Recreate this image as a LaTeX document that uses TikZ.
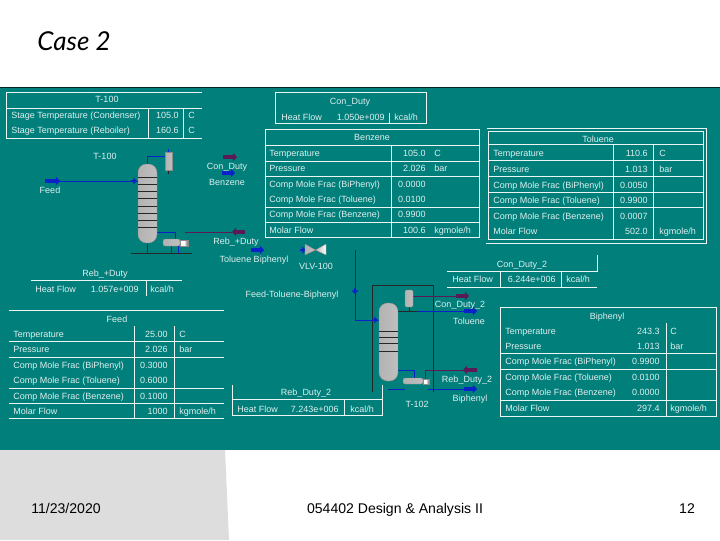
\documentclass[tikz,border=0pt]{standalone}
\usepackage{fontspec}
\setmainfont{Liberation Sans}
\newfontfamily\titlefont{Lato}
\usetikzlibrary{arrows.meta}
\definecolor{teal0}{HTML}{007F7B}
\definecolor{duty}{HTML}{5A1A55}
\definecolor{flow}{HTML}{0A22C8}
\tikzset{
	lbl/.style={text=white!88!teal0,font=\fontsize{6.4}{7.5}\selectfont,inner sep=0pt,text height=5.4pt,text depth=0.8pt},
	cell/.style={lbl,anchor=west},
	val/.style={lbl,anchor=east},
	foot/.style={font=\fontsize{10}{12}\selectfont,inner sep=0pt,text height=7.2pt,text depth=1.8pt},
	rule/.style={draw=white!92!teal0,line width=0.55pt},
	stream/.style={draw=flow,line width=0.7pt},
	heat/.style={draw=duty,line width=0.7pt},
	bigflow/.style={draw=flow,line width=2.4pt,-{Triangle[length=3pt,width=6pt]}},
	bigheat/.style={draw=duty,line width=2.4pt,-{Triangle[length=3pt,width=6pt]}},
	smallflow/.style={draw=flow,line width=1.8pt,-{Triangle[length=2.5pt,width=4.5pt]}},
	vessel/.style={left color=gray!60,middle color=white,right color=gray!50,draw=black!45,line width=0.3pt},
	tray/.style={draw=black!85,line width=0.5pt},
	frame/.style={draw=black!85,line width=0.7pt}
}
\begin{document}
\begin{tikzpicture}[x=0.025cm,y=-0.025cm]
	\useasboundingbox (0,0) rectangle (720,540);
	\fill[white] (0,0) rectangle (720,540);
	\fill[teal0] (0,87) rectangle (720,450);
	\draw[black!70!teal0,line width=0.6pt] (0,87) -- (720,87);
	\fill[gray!27] (0,450) -- (225,450) -- (229,540) -- (0,540) -- cycle;
	\node[font=\titlefont\itshape\fontsize{18.5}{20}\selectfont,inner sep=0pt,anchor=west] (title) at (37,41) {Case 2};
	\node[foot] (date) at (66,510) {11/23/2020};
	\node[foot] (course) at (395,510) {054402 Design \& Analysis II};
	\node[foot] (page) at (687,510) {12};

	% T-100 table
	\draw[rule] (202,92) -- (6,92) -- (6,138) -- (202,138);
	\draw[rule] (6,108) -- (202,108);
	\draw[rule] (148,108) -- (148,138);
	\draw[rule] (183,108) -- (183,138);
	\node[lbl] (tt) at (107,99) {T-100};
	\node[cell] (tc) at (11,115) {Stage Temperature (Condenser)};
	\node[val] (tcv) at (179,115) {105.0};
	\node[cell] (tcu) at (188,115) {C};
	\node[cell] (tr) at (11,130) {Stage Temperature (Reboiler)};
	\node[val] (trv) at (179,130) {160.6};
	\node[cell] (tru) at (188,130) {C};

	% Con_Duty table
	\draw[rule] (275,92) rectangle (426,123);
	\draw[rule] (389,113) -- (389,123);
	\node[lbl] (cd) at (350,101) {Con\_Duty};
	\node[cell] (cdh) at (281,117) {Heat Flow};
	\node[val] (cdv) at (385,117) {1.050e+009};
	\node[cell] (cdu) at (394,117) {kcal/h};

	% Benzene table
	\draw[rule] (265,129) rectangle (479,237);
	\foreach \y in {145,161,176,207,222} \draw[rule] (265,\y) -- (479,\y);
	\draw[rule] (391,145) -- (391,237);
	\node[lbl] (bz) at (372,137) {Benzene};
	\foreach \i/\y/\t/\v/\u in {1/153/Temperature/105.0/C,2/168/Pressure/2.026/bar,3/184/Comp Mole Frac (BiPhenyl)/0.0000/,4/199/Comp Mole Frac (Toluene)/0.0100/,5/214/Comp Mole Frac (Benzene)/0.9900/,6/230/Molar Flow/100.6/{kgmole/h}}{
		\node[cell] (bzl\i) at (269,\y) {\t};
		\node[val] (bzv\i) at (426,\y) {\v};
		\node[cell] (bzu\i) at (434,\y) {\u};
	}

	% Toluene table
	\draw[rule] (488,131) rectangle (703,239);
	\draw[rule] (487,128) -- (706,128) -- (706,243) -- (486,243);
	\foreach \y in {144,160,176,192,207} \draw[rule] (488,\y) -- (703,\y);
	\draw[rule] (613,144) -- (613,239);
	\draw[rule] (653,144) -- (653,239);
	\node[lbl] (tl) at (598,139) {Toluene};
	\foreach \i/\y/\t/\v/\u in {1/153/Temperature/110.6/C,2/169/Pressure/1.013/bar,3/185/Comp Mole Frac (BiPhenyl)/0.0050/,4/200/Comp Mole Frac (Toluene)/0.9900/,5/216/Comp Mole Frac (Benzene)/0.0007/,6/231/Molar Flow/502.0/{kgmole/h}}{
		\node[cell] (tll\i) at (493,\y) {\t};
		\node[val] (tlv\i) at (648,\y) {\v};
		\node[cell] (tlu\i) at (659,\y) {\u};
	}

	% Reb_Duty table
	\draw[rule] (31,280) -- (182,280);
	\draw[rule] (146,280) -- (146,296);
	\node[lbl] (rd) at (105,273) {Reb\_+Duty};
	\node[cell] (rdh) at (35,289) {Heat Flow};
	\node[val] (rdv) at (139,289) {1.057e+009};
	\node[cell] (rdu) at (150,289) {kcal/h};

	% Feed table
	\foreach \y in {310,341,357,388,403,418} \draw[rule] (9,\y) -- (224,\y);
	\draw[rule] (134,326) -- (134,418);
	\draw[rule] (174,326) -- (174,418);
	\node[lbl] (fd) at (117,319) {Feed};
	\foreach \i/\y/\t/\v/\u in {1/334/Temperature/25.00/C,2/349/Pressure/2.026/bar,3/365/Comp Mole Frac (BiPhenyl)/0.3000/,4/380/Comp Mole Frac (Toluene)/0.6000/,5/396/Comp Mole Frac (Benzene)/0.1000/,6/411/Molar Flow/1000/{kgmole/h}}{
		\node[cell] (fdl\i) at (13,\y) {\t};
		\node[val] (fdv\i) at (168,\y) {\v};
		\node[cell] (fdu\i) at (179,\y) {\u};
	}

	% Reb_Duty_2 table
	\draw[rule] (232,385) -- (232,415) -- (382,415) -- (382,385);
	\draw[rule] (232,399) -- (382,399);
	\draw[rule] (344,399) -- (344,415);
	\node[lbl] (rd2) at (306,392) {Reb\_Duty\_2};
	\node[cell] (rd2h) at (237,409) {Heat Flow};
	\node[val] (rd2v) at (339,409) {7.243e+006};
	\node[cell] (rd2u) at (350,409) {kcal/h};

	% Con_Duty_2 table
	\draw[rule] (447,271) -- (597,271) -- (597,255);
	\draw[rule] (447,287) -- (597,287);
	\draw[rule] (500,271) -- (500,287);
	\draw[rule] (561,271) -- (561,287);
	\node[lbl] (cd2) at (522,264) {Con\_Duty\_2};
	\node[cell] (cd2h) at (452,279) {Heat Flow};
	\node[val] (cd2v) at (556,279) {6.244e+006};
	\node[cell] (cd2u) at (566,279) {kcal/h};

	% Biphenyl table
	\draw[rule] (500,307) rectangle (716,416);
	\foreach \y in {353,369,400} \draw[rule] (500,\y) -- (716,\y);
	\draw[rule] (666,323) -- (666,416);
	\node[lbl] (bp) at (607,316) {Biphenyl};
	\foreach \i/\y/\t/\v/\u in {1/331/Temperature/243.3/C,2/346/Pressure/1.013/bar,3/361/Comp Mole Frac (BiPhenyl)/0.9900/,4/377/Comp Mole Frac (Toluene)/0.0100/,5/392/Comp Mole Frac (Benzene)/0.0000/,6/408/Molar Flow/297.4/{kgmole/h}}{
		\node[cell] (bpl\i) at (505,\y) {\t};
		\node[val] (bpv\i) at (660,\y) {\v};
		\node[cell] (bpu\i) at (670,\y) {\u};
	}

	% T-100 column
	\draw[tray] (131,253) -- (192,253);
	\draw[stream] (147,243) -- (147,253);
	\draw[stream] (171,246) -- (171,253);
	\draw[stream] (178,246) -- (178,253);
	\draw[stream] (147,164) -- (147,156) -- (165,156);
	\draw[stream] (157,232) -- (175,232) -- (175,239);
	\draw[draw=flow,line width=0.5pt] (168.5,149) -- (168.5,152);
	\draw[tray] (168.5,170) -- (168.5,174);
	\path[vessel,rounded corners=6pt] (138,164) rectangle (157,243);
	\foreach \y in {177,184,191,198,206,213,220,227} \draw[tray] (138,\y) -- (157,\y);
	\path[vessel] (165,152) rectangle (172,170);
	\path[vessel,rounded corners=1.5pt] (163,239) rectangle (180,246);
	\path[vessel,left color=white,right color=black!60,middle color=white] (180,240) rectangle (188,246);
	\node[lbl] (t100) at (105,156) {T-100};
	\coordinate (feedin) at (45,181);
	\coordinate (feedtip) at (60,181);
	\coordinate (feedend) at (138,181);
	\draw[stream] (feedin) -- (feedend);
	\draw[bigflow] (feedin) -- (feedtip);
	\draw[smallflow] (131,181) -- (137,181);
	\node[lbl] (feed) at (50,190) {Feed};
	\coordinate (cona) at (223,157);
	\coordinate (conb) at (237,157);
	\draw[bigheat] (cona) -- (conb);
	\node[lbl] (conlbl) at (227,166) {Con\_Duty};
	\coordinate (bza) at (222,173);
	\coordinate (bzb) at (235,173);
	\draw[bigflow] (bza) -- (bzb);
	\node[lbl] (bzlbl) at (227,182) {Benzene};
	\coordinate (reba) at (245,232);
	\coordinate (rebb) at (232,232);
	\draw[heat] (185,232) -- (rebb);
	\draw[bigheat] (reba) -- (rebb);
	\node[lbl] (reblbl) at (236,241) {Reb\_+Duty};

	% valve
	\coordinate (tba) at (251,250);
	\coordinate (tbb) at (264,250);
	\draw[bigflow] (tba) -- (tbb);
	\node[lbl] (tblbl) at (254,259) {Toluene Biphenyl};
	\draw[smallflow] (300,250) -- (306,250);
	\path[vessel] (305,244) -- (315.5,250) -- (305,255) -- cycle;
	\path[vessel,left color=gray!55,middle color=gray!20,right color=white] (326,244) -- (315.5,250) -- (326,255) -- cycle;
	\node[lbl] (vlv) at (316,266) {VLV-100};

	% T-102 column
	\node[lbl] (ftb) at (292,294) {Feed-Toluene-Biphenyl};
	\draw[frame] (372,392) -- (372,285) -- (433,285) -- (433,392);
	\coordinate (ftop) at (355,250);
	\coordinate (fcor) at (355,320);
	\coordinate (fend) at (379,320);
	\draw[stream] (ftop) -- (fcor) -- (fend);
	\draw[smallflow] (355,288) -- (355,294);
	\draw[smallflow] (372,320) -- (378,320);
	\draw[tray] (398,311) -- (417,311);
	\draw[tray] (409,307) -- (409,311);
	\draw[heat] (413,296) -- (460,296);
	\draw[bigheat] (456,296) -- (469,296);
	\draw[stream] (417,311) -- (466,311);
	\draw[bigflow] (464,311) -- (477,311);
	\draw[stream] (398,370) -- (414,370) -- (414,378);
	\draw[heat] (425,378) -- (425,370) -- (466,370);
	\draw[bigheat] (477,370) -- (463,370);
	\draw[stream] (388,389) -- (405,389);
	\draw[stream] (428,389) -- (466,389);
	\draw[bigflow] (464,389) -- (477,389);
	\path[vessel,rounded corners=6pt] (379,303) rectangle (398,381);
	\foreach \y in {331,337,343,351} \draw[tray] (379,\y) -- (398,\y);
	\path[vessel,rounded corners=1pt] (405,290) rectangle (413,307);
	\path[vessel,rounded corners=1.5pt] (403,378) rectangle (423,384);
	\path[vessel,left color=white,right color=black!60,middle color=white] (423,379) rectangle (429,384);
	\node[lbl] (t102) at (417,404) {T-102};
	\node[lbl] (cd2lbl) at (460,304) {Con\_Duty\_2};
	\node[lbl] (tolbl) at (469,321) {Toluene};
	\node[lbl] (rd2lbl) at (467,379) {Reb\_Duty\_2};
	\node[lbl] (bplbl) at (470,398) {Biphenyl};
\end{tikzpicture}
\end{document}
